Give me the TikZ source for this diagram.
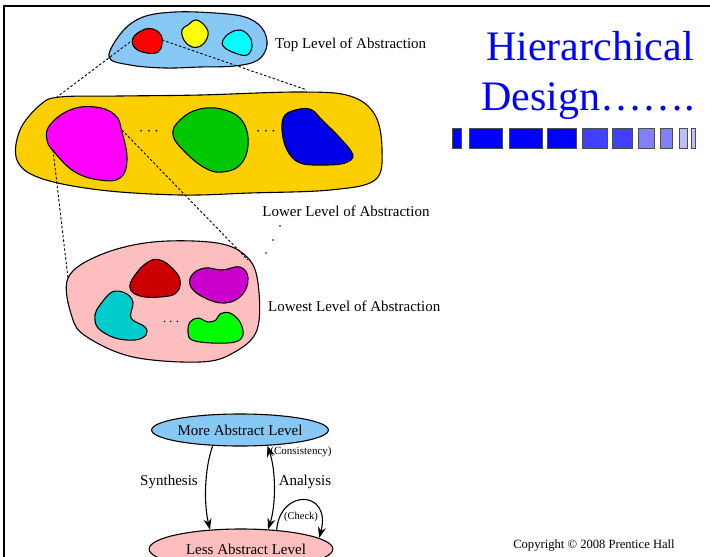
\documentclass[tikz,border=0pt]{standalone}
\usepackage{fontspec}
\setmainfont{Liberation Serif}
\usetikzlibrary{arrows.meta,shapes.geometric,positioning}
\definecolor{skyblob}{RGB}{135,200,245}
\definecolor{goldblob}{RGB}{252,208,0}
\definecolor{pinkblob}{RGB}{252,190,190}
\definecolor{titleblue}{RGB}{0,0,255}
\definecolor{barA}{RGB}{0,0,255}
\definecolor{barB}{RGB}{64,64,255}
\definecolor{barC}{RGB}{128,128,255}
\definecolor{barD}{RGB}{190,190,245}
\definecolor{redblob}{RGB}{255,0,0}
\definecolor{yellowblob}{RGB}{255,255,0}
\definecolor{cyanblob}{RGB}{0,255,255}
\definecolor{magblob}{RGB}{255,0,255}
\definecolor{greenblob}{RGB}{0,200,0}
\definecolor{blueblob}{RGB}{0,0,230}
\definecolor{darkred}{RGB}{204,0,0}
\definecolor{purpleblob}{RGB}{204,0,204}
\definecolor{tealblob}{RGB}{0,204,204}
\definecolor{limeblob}{RGB}{0,255,0}
\tikzset{
  blob/.style={draw=black,line width=1.1pt,fill=#1},
  link/.style={line width=0.9pt,dash pattern=on 2.5pt off 2pt},
  lvltext/.style={font=\fontsize{15}{18}\selectfont,inner sep=0pt},
  lvlblob/.style={ellipse,draw=black,line width=1.1pt,fill=#1,
                  minimum width=158pt,minimum height=32pt,inner sep=0pt,
                  font=\fontsize{15}{18}\selectfont},
  arr/.style={-{Stealth[length=11pt,width=8pt]},line width=1.1pt},
  darr/.style={{Stealth[length=11pt,width=8pt]}-{Stealth[length=11pt,width=8pt]},line width=1.1pt},
  bar/.style={draw=black!70,line width=0.8pt,fill=#1},
}
\begin{document}
\begin{tikzpicture}[x=1pt,y=-1pt]
  \useasboundingbox (0,0) rectangle (710,557);
  \draw[line width=2pt] (4,557) -- (4,6) -- (710,6);

  % top level
  \draw[blob=skyblob] plot[smooth cycle,tension=0.6] coordinates {
    (109,57) (122,32) (143,17) (175,12) (215,13) (245,17) (262,28)
    (267,45) (258,60) (235,66) (200,67) (165,68) (130,65)};
  \draw[blob=redblob] plot[smooth cycle,tension=0.7] coordinates {
    (133,38) (143,30) (153,29) (161,35) (162,44) (158,52) (147,53) (135,48)};
  \draw[blob=yellowblob] plot[smooth cycle,tension=0.7] coordinates {
    (188,25) (196,20) (205,26) (208,35) (202,45) (192,47) (184,40) (182,30)};
  \draw[blob=cyanblob] plot[smooth cycle,tension=0.7] coordinates {
    (230,33) (240,30) (249,36) (252,46) (247,55) (235,53) (224,47) (223,40)};
  \node[lvltext,anchor=west] (toplabel) at (275,45) {Top Level of Abstraction};

  % lower level
  \draw[blob=goldblob] plot[smooth cycle,tension=0.6] coordinates {
    (20,130) (40,105) (60,97) (120,96) (200,95) (300,92) (350,96) (375,115)
    (382,150) (375,180) (330,190) (250,193) (180,195) (100,190) (40,178) (17,160)};
  \draw[blob=magblob] plot[smooth cycle,tension=0.7] coordinates {
    (50,125) (70,110) (95,107) (115,115) (122,132) (127,160) (120,178)
    (100,180) (75,172) (55,153) (47,140)};
  \draw[blob=greenblob] plot[smooth cycle,tension=0.7] coordinates {
    (180,120) (200,109) (225,110) (243,122) (248,145) (240,165) (222,172)
    (205,168) (185,152) (173,135)};
  \draw[blob=blueblob] plot[smooth cycle,tension=0.6] coordinates {
    (285,115) (300,109) (312,110) (322,120) (340,138) (353,155) (345,163)
    (325,165) (300,163) (287,150) (282,130)};
  \node[font=\fontsize{16}{18}\selectfont] (dotsA) at (149,132) {$\cdots$};
  \node[font=\fontsize{16}{18}\selectfont] (dotsB) at (266,132) {$\cdots$};
  \node[lvltext] (lowerlabel) at (346,211) {Lower Level of Abstraction};
  \foreach \px/\py in {280/226,273/240,266/253}
    \fill (\px,\py) circle (0.8);

  % lowest level
  \draw[blob=pinkblob] plot[smooth cycle,tension=0.6] coordinates {
    (68,278) (100,255) (153,242) (217,243) (247,257) (258,283) (257,330)
    (233,353) (200,362) (133,357) (87,337) (72,317)};
  \draw[blob=darkred] plot[smooth cycle,tension=0.7] coordinates {
    (135,275) (148,262) (160,260) (172,268) (180,280) (176,293) (160,297)
    (140,296) (130,288)};
  \draw[blob=purpleblob] plot[smooth cycle,tension=0.7] coordinates {
    (192,275) (205,268) (222,270) (240,267) (248,278) (242,295) (225,303)
    (205,298) (191,287)};
  \draw[blob=tealblob] plot[smooth cycle,tension=0.6] coordinates {
    (100,305) (112,292) (125,293) (133,302) (131,318) (145,327) (146,335)
    (135,340) (115,338) (98,328) (95,315)};
  \draw[blob=limeblob] plot[smooth cycle,tension=0.6] coordinates {
    (190,322) (198,318) (208,322) (216,320) (220,314) (230,313) (240,322)
    (243,335) (235,342) (212,343) (192,340) (188,332)};
  \node[font=\fontsize{14}{16}\selectfont] (dotsC) at (171,322) {$\cdots$};
  \node[lvltext,anchor=west] (lowestlabel) at (268,306) {Lowest Level of Abstraction};

  % links between levels
  \coordinate (redL) at (130,42);
  \coordinate (redR) at (162,40);
  \coordinate (goldL) at (57,97);
  \coordinate (goldR) at (307,90);
  \coordinate (magL) at (53,150);
  \coordinate (magR) at (122,130);
  \coordinate (pinkL) at (68,278);
  \coordinate (pinkR) at (248,260);
  \draw[link] (redL) -- (goldL);
  \draw[link] (redR) -- (goldR);
  \draw[link] (magL) -- (pinkL);
  \draw[link] (magR) -- (pinkR);

  % title
  \node[text=titleblue,font=\fontsize{42}{48}\selectfont,anchor=base west,inner sep=0pt]
    (title1) at (486,60) {Hierarchical};
  \node[text=titleblue,font=\fontsize{42}{48}\selectfont,anchor=base west,inner sep=0pt]
    (title2) at (481,110) {Design…….};
  \foreach \xl/\xr/\c in {452/461/barA,469/502/barA,509/542/barA,547/576/barA,
      582/607/barB,612/632/barB,638/654/barC,660/672/barC,679/687/barD,691/695/barD}
    \draw[bar=\c] (\xl,128) rectangle (\xr,148);

  % synthesis / analysis
  \node[lvlblob=skyblob] (more) at (240,430) {More Abstract Level};
  \node[lvlblob=pinkblob,minimum height=40pt] (less) at (241,549) {\hspace*{10pt}Less Abstract Level};
  \draw[arr] (more.210) .. controls (204,470) and (204,505) .. (less.148);
  \draw[darr] (less.36) .. controls (276,505) and (276,470) .. (more.330);
  \draw[arr] (less.28) .. controls (280,488) and (332,490) .. (less.8);
  \node[lvltext] (synlabel) at (169,482) {Synthesis};
  \node[lvltext] (anllabel) at (305,482) {Analysis};
  \node[font=\fontsize{11}{13}\selectfont,inner sep=0pt] (conslabel) at (301,452) {(Consistency)};
  \node[font=\fontsize{10.5}{12}\selectfont,inner sep=0pt] (checklabel) at (301,517) {(Check)};

  \node[font=\fontsize{12.6}{15}\selectfont,inner sep=0pt] (copyright) at (594,545)
    {Copyright © 2008 Prentice Hall};
\end{tikzpicture}
\end{document}
